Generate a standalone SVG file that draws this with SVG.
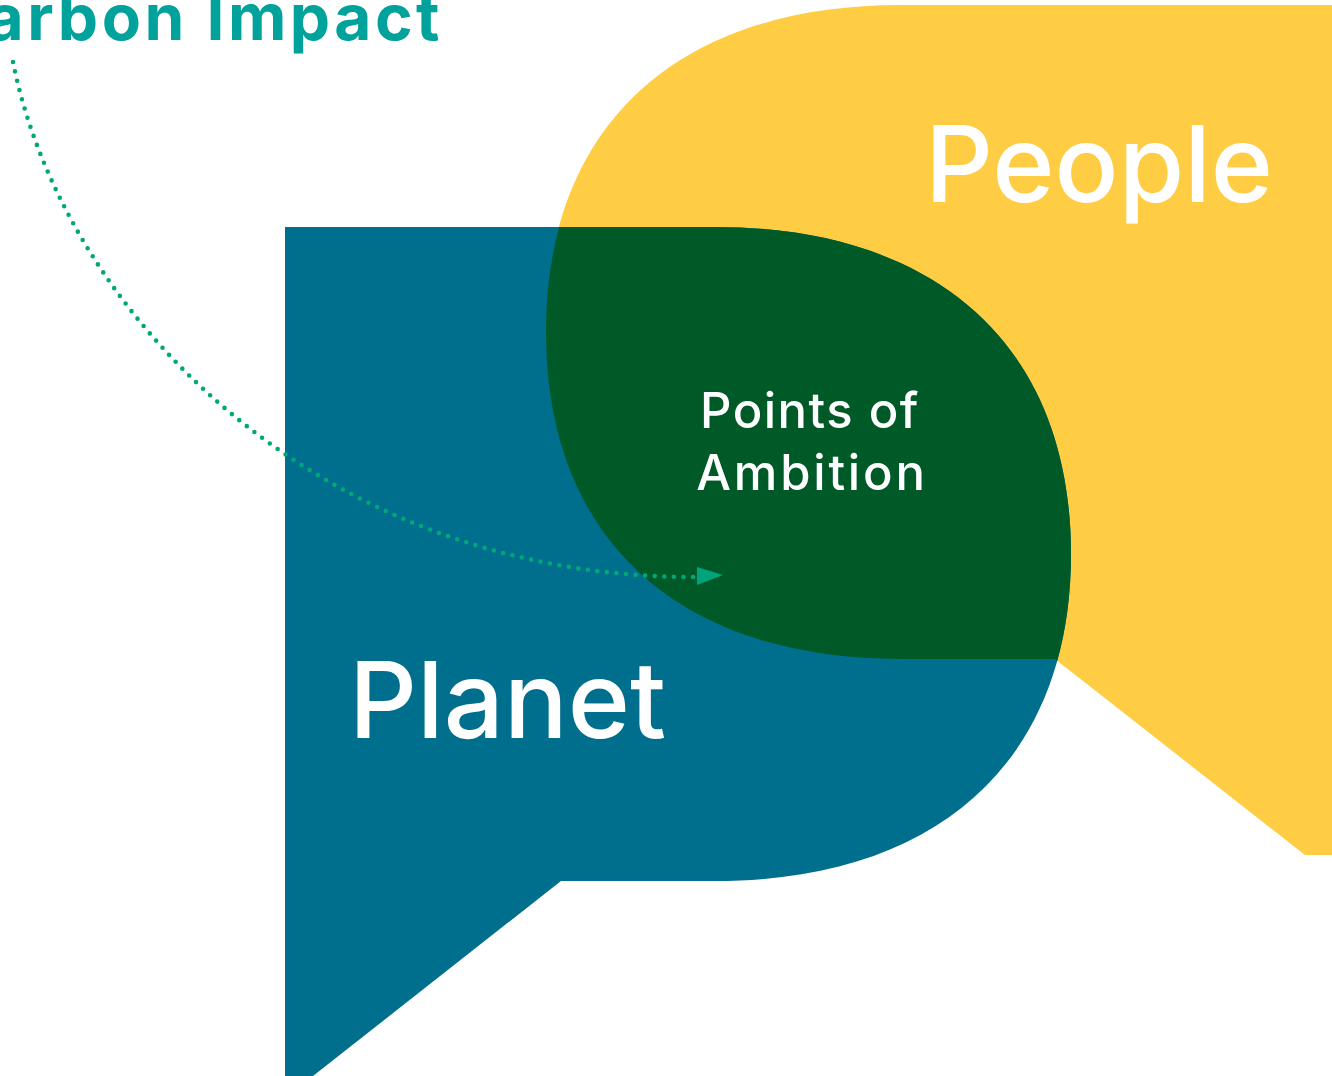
<svg xmlns="http://www.w3.org/2000/svg" width="1332" height="1076" viewBox="0 0 1332 1076">
  <style>
    .label { font-family: Inter, "Open Sans", "Liberation Sans", sans-serif; fill: #ffffff; font-weight: 500; }
    .big { font-size: 106px; }
    .mid { font-size: 49px; letter-spacing: 1.5px; }
    .title { font-family: Inter, "Open Sans", "Liberation Sans", sans-serif; fill: #00A29B; font-weight: 700; font-size: 64px; letter-spacing: 3.5px; }
    .dots { fill: none; stroke: #00A878; stroke-width: 4.6; stroke-linecap: round; stroke-dasharray: 0 9.6; }
  </style>
  <defs>
    <path id="bluePath" d="M285,227 H715 C939,227 1071,348 1071,554 C1071,760 939,881 715,881 H561 L313,1076 H285 Z"/>
    <path id="yellowPath" d="M1332,5 H901 C677,5 546,126 546,332 C546,538 677,659 901,659 H1055 L1305,855 H1332 Z"/>
    <clipPath id="blueClip"><use href="#bluePath"/></clipPath>
  </defs>
  <rect width="1332" height="1076" fill="#ffffff"/>
  <g id="people">
    <use href="#yellowPath" fill="#FECD43"/>
    <text class="label big" x="925" y="202">People</text>
  </g>
  <g id="planet">
    <use href="#bluePath" fill="#006F8E"/>
    <text class="label big" x="349" y="738">Planet</text>
  </g>
  <g id="points-of-ambition">
    <use href="#yellowPath" fill="#005A27" clip-path="url(#blueClip)"/>
    <text class="label mid" text-anchor="middle" x="810" y="428">Points of</text>
    <text class="label mid" text-anchor="middle" x="812" y="490" style="letter-spacing:2.8px">Ambition</text>
  </g>
  <g id="carbon-impact">
    <text class="title" x="443" y="40" text-anchor="end">Carbon Impact</text>
  </g>
  <g id="connectors">
    <path class="dots" d="M13,62 C63,312 317,577 694,577"/>
    <polygon points="697,567 723,575 697,585" fill="#00A37A"/>
  </g>
</svg>
